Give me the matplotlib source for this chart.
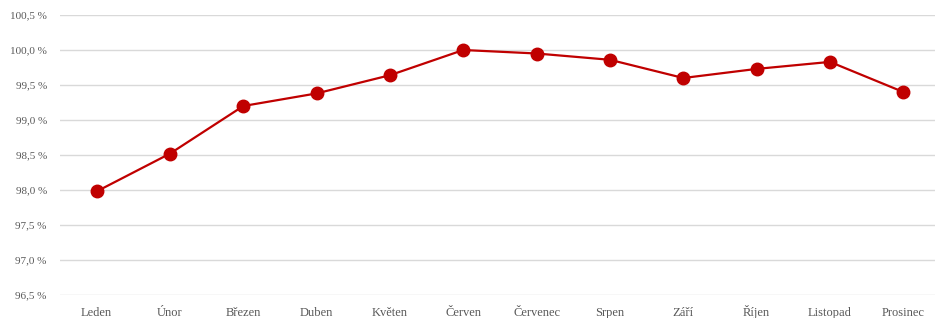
import matplotlib
matplotlib.use("Agg")
import matplotlib.pyplot as plt
from matplotlib.ticker import FuncFormatter

months = ["Leden", "Únor", "Březen", "Duben", "Květen", "Červen",
          "Červenec", "Srpen", "Září", "Říjen", "Listopad", "Prosinec"]
values = [97.98, 98.52, 99.20, 99.38, 99.64, 100.0,
          99.95, 99.86, 99.60, 99.73, 99.83, 99.40]
yticks = [96.5, 97.0, 97.5, 98.0, 98.5, 99.0, 99.5, 100.0, 100.5]

plt.rcParams['font.family'] = ['Liberation Serif', 'DejaVu Serif']

fig = plt.figure(figsize=(9.35, 3.18), dpi=100)
ax = fig.add_axes([60/935, 1-295/318, 880/935, 280/318])

x = list(range(len(months)))
ax.plot(x, values, color="#c00000", linewidth=1.6, marker="o", markersize=9,
        markerfacecolor="#c00000", markeredgecolor="#c00000", zorder=3)

ax.set_xlim(-0.5, len(months) - 0.5)
ax.set_ylim(96.5, 100.5)
ax.set_yticks(yticks)
ax.yaxis.set_major_formatter(FuncFormatter(lambda v, p: f"{v:.1f}".replace(".", ",") + " %"))
ax.set_xticks(x)
ax.set_xticklabels(months)
ax.grid(axis="y", color="#d9d9d9", linewidth=1)
ax.set_axisbelow(True)
for s in ax.spines.values():
    s.set_visible(False)
ax.tick_params(axis="both", length=0, colors="#595959")
ax.tick_params(axis="y", pad=9.5, labelsize=8)
ax.tick_params(axis="x", pad=15, labelsize=9)
for lab in ax.get_xticklabels():
    lab.set_verticalalignment("baseline")

fig.savefig("out.png", dpi=100)
